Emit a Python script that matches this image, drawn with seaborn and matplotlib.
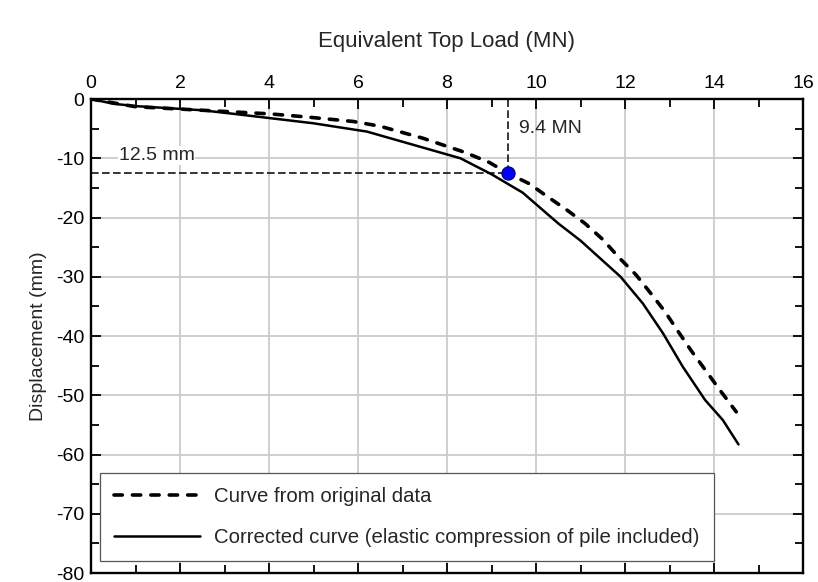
import matplotlib
matplotlib.use("Agg")
import matplotlib.pyplot as plt
import seaborn as sns
import pandas as pd
from matplotlib.ticker import MultipleLocator

# ---- data ----
orig_load = [0.0, 1.0, 2.0, 3.0, 4.0, 4.8, 5.9, 6.5, 7.45, 8.4, 8.95, 9.36,
             9.85, 10.26, 10.67, 11.1, 11.5, 11.87, 12.25, 12.6, 12.9, 13.2,
             13.5, 13.83, 14.13, 14.5]
orig_disp = [0.0, -1.3, -1.7, -2.1, -2.5, -3.0, -3.8, -4.6, -6.6, -9.0, -10.7, -12.5,
             -14.3, -16.5, -18.6, -21.0, -23.7, -26.8, -29.7, -33.0, -35.9, -39.3,
             -42.6, -46.0, -49.1, -52.8]

corr_load = [0.0, 0.5, 1.0, 2.5, 3.2, 5.0, 6.2, 8.3, 9.0, 9.7, 10.5, 11.0,
             11.9, 12.4, 12.85, 13.3, 13.8, 14.2, 14.55]
corr_disp = [0.0, -0.8, -1.2, -1.9, -2.5, -4.1, -5.5, -10.0, -12.7, -15.8, -21.0, -23.9,
             -30.0, -34.5, -39.5, -45.2, -50.8, -54.2, -58.3]

series_labels = ["Curve from original data",
                 "Corrected curve (elastic compression of pile included)"]

x_ticks = [0, 2, 4, 6, 8, 10, 12, 14, 16]
y_ticks = [0, -10, -20, -30, -40, -50, -60, -70, -80]

point_load = 9.36
point_disp = -12.5
load_label = "9.4 MN"
disp_label = "12.5 mm"

x_title = "Equivalent Top Load (MN)"
y_title = "Displacement (mm)"

# ---- style ----
sns.set_style("ticks")
plt.rcParams["font.family"] = ["Liberation Sans", "DejaVu Sans"]
plt.rcParams["axes.unicode_minus"] = False

fig = plt.figure(figsize=(8.18, 5.82), dpi=100)
W, H = 818, 582
ax = fig.add_axes([91 / W, 1 - 573 / H, (803 - 91) / W, (573 - 99) / H])

df_o = pd.DataFrame({"load": orig_load, "disp": orig_disp})
df_c = pd.DataFrame({"load": corr_load, "disp": corr_disp})

sns.lineplot(data=df_o, x="load", y="disp", ax=ax, sort=False, estimator=None,
             color="black", lw=2.6, linestyle=(0, (2.3, 2.8)),
             dash_capstyle="round", label=series_labels[0], zorder=4)
sns.lineplot(data=df_c, x="load", y="disp", ax=ax, sort=False, estimator=None,
             color="black", lw=1.8, label=series_labels[1], zorder=4)

# guide lines to the marked point
ax.plot([point_load, point_load], [point_disp, 0], color="black", lw=1.1,
        linestyle=(0, (5, 2.2)), zorder=3)
ax.plot([0, point_load], [point_disp, point_disp], color="black", lw=1.1,
        linestyle=(0, (5, 2.2)), zorder=3)
ax.plot([point_load], [point_disp], marker="o", ms=9.5, color="#0000ff",
        mec="#00006a", mew=0.8, zorder=6, linestyle="none")

ax.text(point_load + 0.25, -4.9, load_label, fontsize=14, va="center", ha="left")
ax.text(0.62, -9.5, disp_label, fontsize=14, va="center", ha="left",
        bbox=dict(facecolor="white", edgecolor="none", pad=0.5))

# axes
ax.set_xlim(0, 16)
ax.set_ylim(-80, 0)
ax.set_xticks(x_ticks)
ax.set_yticks(y_ticks)
ax.xaxis.set_minor_locator(MultipleLocator(1))
ax.yaxis.set_minor_locator(MultipleLocator(5))
ax.xaxis.tick_top()
ax.xaxis.set_label_position("top")
ax.tick_params(which="both", direction="in", top=True, bottom=True, left=True,
               right=True, labelsize=14, colors="black", width=1.3)
ax.tick_params(which="major", length=7, pad=5)
ax.tick_params(which="minor", length=6)
ax.tick_params(axis="x", labeltop=True, labelbottom=False)
ax.grid(True, which="major", color="#cccccc", lw=1.3, zorder=0)
ax.set_axisbelow(True)
for s in ax.spines.values():
    s.set_visible(True)
    s.set_color("black")
    s.set_linewidth(1.7)

ax.set_xlabel(x_title, fontsize=16, labelpad=20)
ax.set_ylabel(y_title, fontsize=14, labelpad=6)

leg = ax.legend(loc="lower left", bbox_to_anchor=(0.012, 0.025), borderaxespad=0,
                fontsize=14.7, frameon=True, fancybox=False, handlelength=4.2,
                handletextpad=0.7, labelspacing=1.05, borderpad=0.7)
leg.get_frame().set_edgecolor("#555555")
leg.get_frame().set_linewidth(0.9)
leg.get_frame().set_alpha(1)

fig.savefig("out.png", dpi=100)
